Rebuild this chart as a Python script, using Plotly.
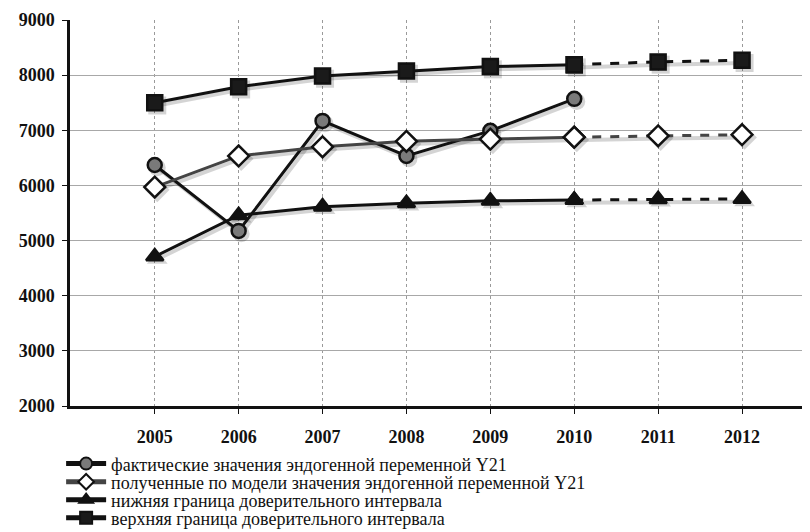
import plotly.graph_objects as go

years = [2005, 2006, 2007, 2008, 2009, 2010, 2011, 2012]
actual = [6370, 5175, 7170, 6535, 6990, 7570, None, None]
model = [5970, 6535, 6700, 6800, 6840, 6875, 6900, 6920]
lower = [4710, 5460, 5615, 5675, 5720, 5735, 5750, 5755]
upper = [7500, 7790, 7985, 8075, 8155, 8190, 8240, 8270]

names = [
    "фактические значения эндогенной переменной Y21",
    "полученные по модели значения эндогенной переменной Y21",
    "нижняя граница доверительного интервала",
    "верхняя граница доверительного интервала",
]
ytickvals = [2000, 3000, 4000, 5000, 6000, 7000, 8000, 9000]

n_fact = 6  # observed period ends at 2010

fig = go.Figure()

styles = [
    dict(vals=actual, symbol="circle", size=14, fill="#7a7a7a", line="#111111", mline="#111111"),
    dict(vals=model, symbol="diamond", size=16, fill="#ffffff", line="#444444", mline="#111111"),
    dict(vals=lower, symbol="triangle-up", size=15, fill="#111111", line="#111111", mline="#111111"),
    dict(vals=upper, symbol="square", size=15, fill="#1a1a1a", line="#111111", mline="#111111"),
]
legend_ids = ["legend", "legend2", "legend3", "legend4"]

# soft shadow layer on base (hidden, shifted) axes
for st in styles:
    fig.add_trace(go.Scatter(
        x=years, y=st["vals"], mode="lines+markers", showlegend=False,
        xaxis="x", yaxis="y", hoverinfo="skip",
        line=dict(color="rgba(0,0,0,0.17)", width=4),
        marker=dict(symbol=st["symbol"], size=st["size"] + 3, color="rgba(0,0,0,0.17)",
                    line=dict(width=0)),
    ))

for name, st, lg in zip(names, styles, legend_ids):
    fig.add_trace(go.Scatter(
        x=years[:n_fact], y=st["vals"][:n_fact], mode="lines+markers", name=name,
        xaxis="x2", yaxis="y2", legend=lg,
        line=dict(color=st["line"], width=3),
        marker=dict(symbol=st["symbol"], size=st["size"], color=st["fill"],
                    line=dict(color=st["mline"], width=2.5)),
    ))
    if any(v is not None for v in st["vals"][n_fact:]):
        fig.add_trace(go.Scatter(
            x=years[n_fact - 1:], y=st["vals"][n_fact - 1:], mode="lines+markers",
            showlegend=False, xaxis="x2", yaxis="y2",
            line=dict(color=st["line"], width=3, dash="dash"),
            marker=dict(symbol=st["symbol"], size=st["size"], color=st["fill"],
                        line=dict(color=st["mline"], width=2.5)),
        ))

xr = [2003.99, 2012.81]
yr = [2000, 9000]
tickfont = dict(size=18, family="Liberation Serif", weight="bold", color="#111111")
legend_font = dict(size=18, family="Liberation Serif", color="#111111")
legend_y = [-0.150, -0.197, -0.2435, -0.290]

layout_legends = {}
for lg, ly in zip(legend_ids, legend_y):
    layout_legends[lg] = dict(x=-0.012, y=ly, xanchor="left", yanchor="middle",
                              font=legend_font, itemwidth=40, itemsizing="constant",
                              bgcolor="rgba(0,0,0,0)", borderwidth=0)

fig.update_layout(
    width=810, height=532,
    margin=dict(l=62, r=8, t=12, b=134, autoexpand=False),
    paper_bgcolor="white", plot_bgcolor="white",
    font=dict(family="Liberation Serif", color="#111111"),
    xaxis=dict(range=[xr[0] - 0.03, xr[1] - 0.03], showgrid=False, showticklabels=False,
               zeroline=False, showline=False, ticks="", automargin=False),
    yaxis=dict(range=[yr[0] + 50, yr[1] + 50], showgrid=False, showticklabels=False,
               zeroline=False, showline=False, ticks="", automargin=False),
    xaxis2=dict(range=xr, tickvals=years, ticktext=[str(y) for y in years],
                overlaying="x", side="bottom", anchor="y2", automargin=False,
                showgrid=True, gridcolor="#9a9a9a", griddash="dot", gridwidth=1,
                showline=True, linecolor="#111111", linewidth=2.5,
                ticks="outside", ticklen=5, tickcolor="#111111",
                tickfont=tickfont, ticklabelstandoff=8,
                zeroline=False),
    yaxis2=dict(range=yr, tickvals=ytickvals, overlaying="y", side="left", anchor="x2",
                automargin=False,
                showgrid=True, gridcolor="#a8a8a8", gridwidth=1,
                showline=True, linecolor="#111111", linewidth=2.5,
                ticks="outside", ticklen=5, tickcolor="#111111",
                tickfont=tickfont, ticklabelstandoff=4,
                zeroline=False),
    showlegend=True,
    **layout_legends,
)

fig.write_html("out.html")
